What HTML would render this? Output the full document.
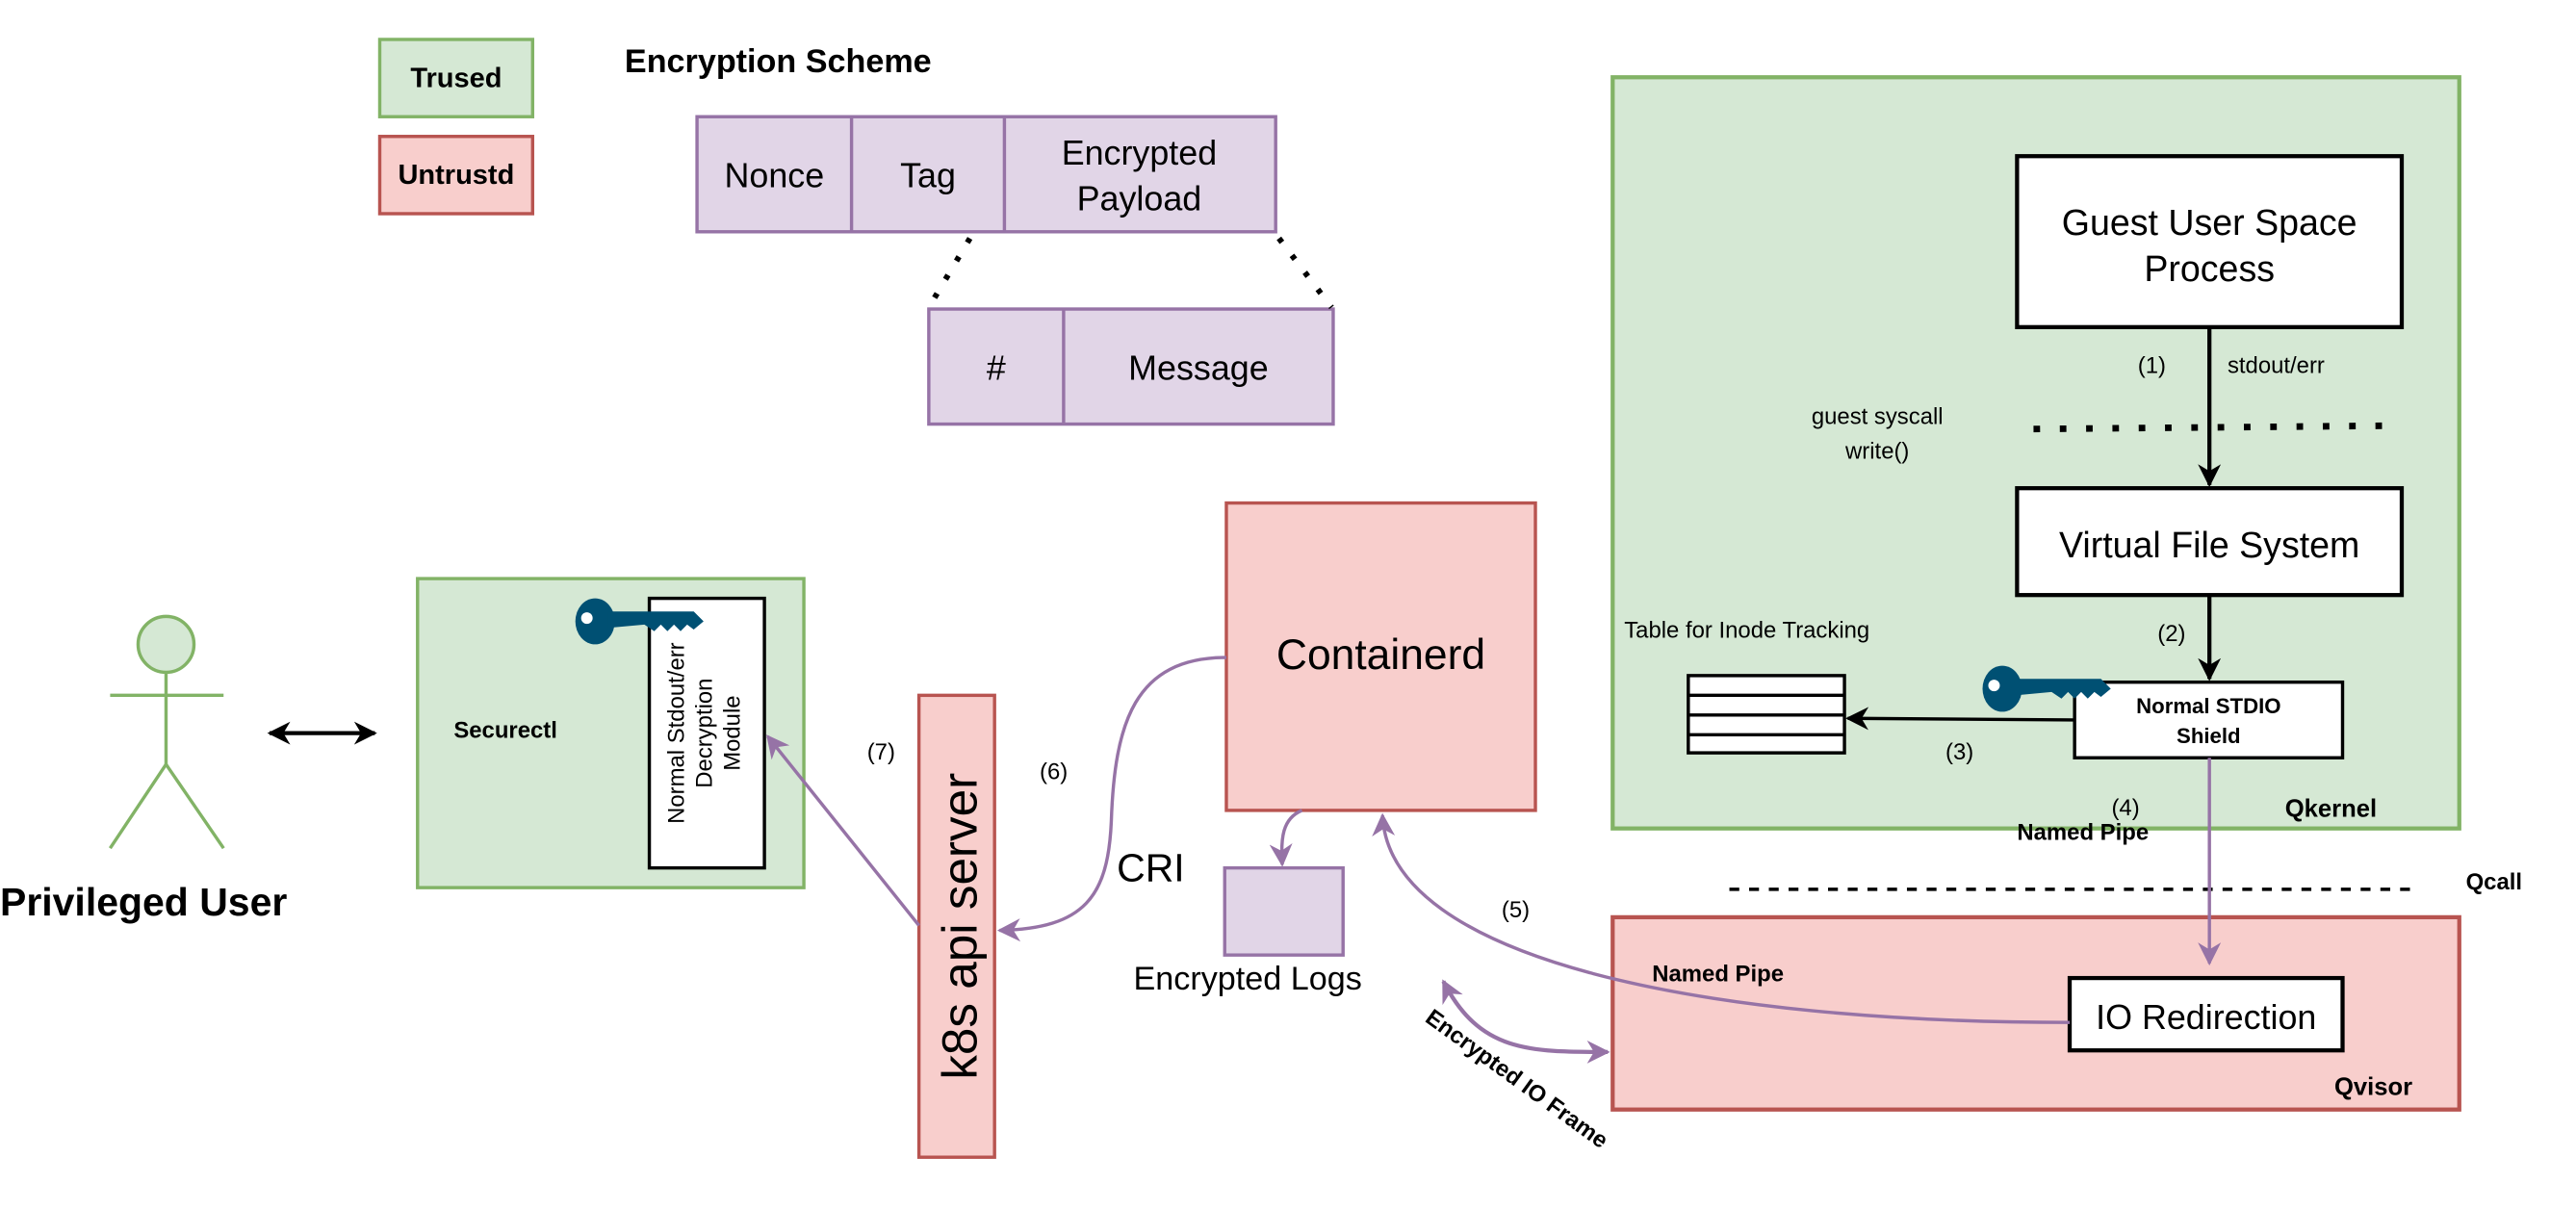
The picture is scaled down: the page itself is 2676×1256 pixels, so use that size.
<!DOCTYPE html>
<html><head><meta charset="utf-8"><style>
html,body{margin:0;padding:0;background:#fff;}
svg{display:block;}
text{font-family:"Liberation Sans",Arial,sans-serif;fill:#000;}
.b{font-weight:bold;}
</style></head><body>
<svg width="2676" height="1256" viewBox="0 0 1567 735.5" preserveAspectRatio="none" xmlns="http://www.w3.org/2000/svg">
<defs>
<marker id="abk" viewBox="0 0 10 10" refX="9" refY="5" markerWidth="14" markerHeight="14" orient="auto-start-reverse" markerUnits="userSpaceOnUse"><path d="M0,0 L10,5 L0,10 L3,5 z" fill="#000"/></marker>
<marker id="ap" viewBox="0 0 10 10" refX="9" refY="5" markerWidth="14" markerHeight="14" orient="auto-start-reverse" markerUnits="userSpaceOnUse"><path d="M0,0 L10,5 L0,10 L3,5 z" fill="#9673a6"/></marker>
<g id="key">
<ellipse cx="0" cy="0" rx="12" ry="14" fill="#005073"/>
<circle cx="-5" cy="-2" r="3.5" fill="#fff"/>
<path d="M8,-6 L60,-6 L66,0 L60,5 L56,2 L52,6 L48,2 L44,6 L40,2 L36,6 L30,2 L8,4 z" fill="#005073"/>
</g>
</defs>

<rect x="231" y="24" width="93" height="47" fill="#d5e8d4" stroke="#82b366" stroke-width="2"/>
<text x="277.5" y="53" font-size="17" class="b" text-anchor="middle">Trused</text>
<rect x="231" y="83" width="93" height="47" fill="#f8cecc" stroke="#b85450" stroke-width="2"/>
<text x="277.5" y="112" font-size="17" class="b" text-anchor="middle">Untrustd</text>

<text x="380" y="44" font-size="20" class="b">Encryption Scheme</text>
<rect x="424" y="71" width="352" height="70" fill="#e1d5e7" stroke="#9673a6" stroke-width="2"/>
<line x1="518" y1="71" x2="518" y2="141" stroke="#9673a6" stroke-width="2"/>
<line x1="611" y1="71" x2="611" y2="141" stroke="#9673a6" stroke-width="2"/>
<text x="471" y="114" font-size="21" text-anchor="middle">Nonce</text>
<text x="564.5" y="114" font-size="21" text-anchor="middle">Tag</text>
<text x="693" y="100" font-size="21" text-anchor="middle">Encrypted</text>
<text x="693" y="128" font-size="21" text-anchor="middle">Payload</text>
<rect x="565" y="188" width="246" height="70" fill="#e1d5e7" stroke="#9673a6" stroke-width="2"/>
<line x1="647" y1="188" x2="647" y2="258" stroke="#9673a6" stroke-width="2"/>
<text x="606" y="231" font-size="21" text-anchor="middle">#</text>
<text x="729" y="231" font-size="21" text-anchor="middle">Message</text>
<line x1="590" y1="145" x2="565" y2="187" stroke="#000" stroke-width="3.5" stroke-dasharray="3 10"/>
<line x1="778" y1="145" x2="810" y2="187" stroke="#000" stroke-width="3.5" stroke-dasharray="3 10"/>

<rect x="981" y="47" width="515" height="457" fill="#d5e8d4" stroke="#82b366" stroke-width="2.5"/>
<rect x="1227" y="95" width="234" height="104" fill="#fff" stroke="#000" stroke-width="2.5"/>
<text x="1344" y="143" font-size="22" text-anchor="middle">Guest User Space</text>
<text x="1344" y="171" font-size="22" text-anchor="middle">Process</text>
<line x1="1344" y1="199" x2="1344" y2="295" stroke="#000" stroke-width="2.5" marker-end="url(#abk)"/>
<text x="1309" y="227" font-size="14" text-anchor="middle">(1)</text>
<text x="1355" y="227" font-size="14">stdout/err</text>
<text x="1142" y="258" font-size="14" text-anchor="middle">guest syscall</text>
<text x="1142" y="279" font-size="14" text-anchor="middle">write()</text>
<line x1="1237" y1="261" x2="1452" y2="259" stroke="#000" stroke-width="4" stroke-dasharray="4 12"/>
<rect x="1227" y="297" width="234" height="65" fill="#fff" stroke="#000" stroke-width="2.5"/>
<text x="1344" y="339" font-size="22" text-anchor="middle">Virtual File System</text>
<line x1="1344" y1="362" x2="1344" y2="413" stroke="#000" stroke-width="2.5" marker-end="url(#abk)"/>
<text x="1321" y="390" font-size="14" text-anchor="middle">(2)</text>
<rect x="1262" y="415" width="163" height="46" fill="#fff" stroke="#000" stroke-width="2"/>
<text x="1343.5" y="434" font-size="13" class="b" text-anchor="middle">Normal STDIO</text>
<text x="1343.5" y="452" font-size="13" class="b" text-anchor="middle">Shield</text>
<use href="#key" x="1218" y="419"/>
<text x="988" y="388" font-size="14">Table for Inode Tracking</text>
<rect x="1027" y="411" width="95" height="47" fill="#fff" stroke="#000" stroke-width="2"/>
<line x1="1027" y1="423" x2="1122" y2="423" stroke="#000" stroke-width="2"/>
<line x1="1027" y1="435" x2="1122" y2="435" stroke="#000" stroke-width="2"/>
<line x1="1027" y1="447" x2="1122" y2="447" stroke="#000" stroke-width="2"/>
<line x1="1262" y1="438" x2="1124" y2="437" stroke="#000" stroke-width="2" marker-end="url(#abk)"/>
<text x="1192" y="462" font-size="14" text-anchor="middle">(3)</text>
<text x="1390" y="497" font-size="15" class="b">Qkernel</text>
<text x="1293" y="496" font-size="14" text-anchor="middle">(4)</text>
<text x="1227" y="511" font-size="14" class="b">Named Pipe</text>

<line x1="1052" y1="541" x2="1466" y2="541" stroke="#000" stroke-width="2" stroke-dasharray="6 6"/>
<text x="1500" y="541" font-size="14" class="b">Qcall</text>

<rect x="981" y="558" width="515" height="117" fill="#f8cecc" stroke="#b85450" stroke-width="2.5"/>
<line x1="1344" y1="461" x2="1344" y2="586" stroke="#9673a6" stroke-width="2" marker-end="url(#ap)"/>
<text x="1005" y="597" font-size="14" class="b">Named Pipe</text>
<text x="1420" y="666" font-size="15" class="b">Qvisor</text>
<rect x="1259" y="595" width="166" height="44" fill="#fff" stroke="#000" stroke-width="2.5"/>
<text x="1342" y="626" font-size="21" text-anchor="middle">IO Redirection</text>
<path d="M1259,622 C1040,622 845,585 841,496" fill="none" stroke="#9673a6" stroke-width="2" marker-end="url(#ap)"/>
<text x="922" y="558" font-size="14" text-anchor="middle">(5)</text>

<rect x="746" y="306" width="188" height="187" fill="#f8cecc" stroke="#b85450" stroke-width="2"/>
<text x="840" y="407" font-size="26" text-anchor="middle">Containerd</text>
<path d="M792,493 C780,498 779,510 780,526" fill="none" stroke="#9673a6" stroke-width="2" marker-end="url(#ap)"/>
<rect x="745" y="528" width="72" height="53" fill="#e1d5e7" stroke="#9673a6" stroke-width="2"/>
<text x="759" y="602" font-size="20" text-anchor="middle">Encrypted Logs</text>
<text x="700" y="536" font-size="24" text-anchor="middle">CRI</text>
<path d="M746,400 C690,400 678,440 676,500 C674,545 660,565 608,566" fill="none" stroke="#9673a6" stroke-width="2" marker-end="url(#ap)"/>
<text x="641" y="474" font-size="14" text-anchor="middle">(6)</text>

<rect x="559" y="423" width="46" height="281" fill="#f8cecc" stroke="#b85450" stroke-width="2"/>
<text transform="translate(594,563.5) rotate(-90)" font-size="30" text-anchor="middle">k8s api server</text>
<text x="536" y="462" font-size="14" text-anchor="middle">(7)</text>

<rect x="254" y="352" width="235" height="188" fill="#d5e8d4" stroke="#82b366" stroke-width="2"/>
<text x="276" y="449" font-size="14" class="b">Securectl</text>
<rect x="395" y="364" width="70" height="164" fill="#fff" stroke="#000" stroke-width="2"/>
<g transform="translate(430,446) rotate(-90)" font-size="14" text-anchor="middle">
<text x="0" y="-14">Normal Stdout/err</text>
<text x="0" y="3">Decryption</text>
<text x="0" y="20">Module</text>
</g>
<use href="#key" x="362" y="378"/>
<line x1="559" y1="563" x2="467" y2="448" stroke="#9673a6" stroke-width="2" marker-end="url(#ap)"/>

<circle cx="101" cy="392" r="17" fill="#d5e8d4" stroke="#82b366" stroke-width="2"/>
<line x1="101" y1="409" x2="101" y2="465" stroke="#82b366" stroke-width="2"/>
<line x1="67" y1="423" x2="136" y2="423" stroke="#82b366" stroke-width="2"/>
<line x1="101" y1="465" x2="67" y2="516" stroke="#82b366" stroke-width="2"/>
<line x1="101" y1="465" x2="136" y2="516" stroke="#82b366" stroke-width="2"/>
<text x="0" y="557" font-size="24" class="b">Privileged User</text>
<line x1="164" y1="446" x2="228" y2="446" stroke="#000" stroke-width="2.5" marker-start="url(#abk)" marker-end="url(#abk)"/>

<path d="M878,597 C900,640 930,640 978,640" fill="none" stroke="#9673a6" stroke-width="2.5" marker-start="url(#ap)" marker-end="url(#ap)"/>
<text transform="translate(920,660) rotate(36)" font-size="14" class="b" text-anchor="middle">Encrypted IO Frame</text>
</svg>
</body></html>
